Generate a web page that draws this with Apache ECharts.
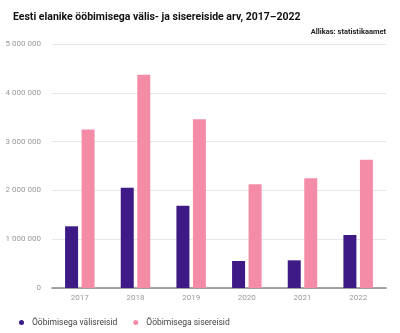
<!DOCTYPE html>
<html>
<head>
<meta charset="utf-8">
<script src="https://cdn.jsdelivr.net/npm/echarts@6/dist/echarts.min.js"></script>
<style>
html,body{margin:0;padding:0;background:#fff;}
#chart{width:400px;height:333px;}
</style>
</head>
<body>
<div id="chart"></div>
<script>
const years = ['2017', '2018', '2019', '2020', '2021', '2022'];
const abroadTrips = [1264000, 2055000, 1686000, 553000, 567000, 1086000];
const domesticTrips = [3250000, 4370000, 3457000, 2125000, 2248000, 2630000];
const seriesNames = ['Ööbimisega välisreisid', 'Ööbimisega sisereisid'];
const seriesColors = ['#3d1a85', '#f58ca7'];

const fmt = v => String(v).replace(/\B(?=(\d{3})+(?!\d))/g, ' ');

const chart = echarts.init(document.getElementById('chart'), null, {renderer: 'canvas'});
chart.setOption({
  animation: false,
  textStyle: {fontFamily: 'Roboto'},
  title: [
    {text: 'Eesti elanike ööbimisega välis- ja sisereiside arv, 2017–2022', left: 8, top: 7,
     textStyle: {fontSize: 10.5, fontWeight: 'bold', color: '#111', fontFamily: 'Roboto'}},
    {text: 'Allikas: statistikaamet', right: 9, top: 23,
     textStyle: {fontSize: 7.5, fontWeight: 'bold', color: '#222', fontFamily: 'Roboto'}}
  ],
  legend: {
    bottom: 1, left: 14, itemWidth: 5, itemHeight: 5, itemGap: 16, icon: 'circle',
    textStyle: {fontSize: 8.5, color: '#444', padding: [0, 0, 0, 3]},
    data: seriesNames
  },
  grid: {left: 52, right: 14, top: 44, bottom: 45},
  xAxis: {
    type: 'category', data: years,
    axisLine: {lineStyle: {color: '#888', width: 1.5}},
    axisTick: {show: false},
    axisLabel: {color: '#999', fontSize: 8, margin: 6}
  },
  yAxis: {
    type: 'value', min: 0, max: 5000000, interval: 1000000,
    axisLine: {show: false}, axisTick: {show: false},
    axisLabel: {color: '#999', fontSize: 8, margin: 11, formatter: fmt},
    splitLine: {lineStyle: {color: '#e6e6e6'}}
  },
  series: [
    {name: seriesNames[0], type: 'bar', data: abroadTrips, barWidth: 13, barGap: '27%',
     itemStyle: {color: seriesColors[0]}},
    {name: seriesNames[1], type: 'bar', data: domesticTrips, barWidth: 13,
     itemStyle: {color: seriesColors[1]}}
  ]
});
</script>
</body>
</html>
